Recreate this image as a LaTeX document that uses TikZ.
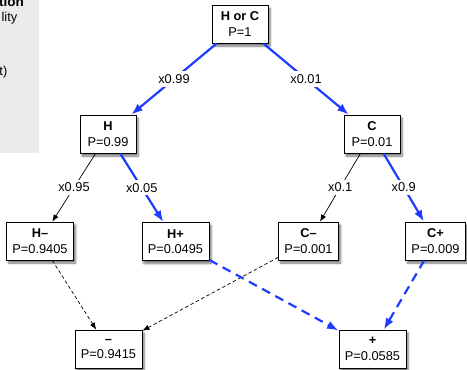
\documentclass[tikz,border=0pt]{standalone}
\usepackage{fontspec}
\setmainfont{Liberation Sans}
\usetikzlibrary{arrows.meta,shadows.blur}
\definecolor{pathblue}{RGB}{30,60,255}
\definecolor{panelgrey}{RGB}{235,235,235}
\begin{document}
\begin{tikzpicture}[x=1pt,y=-1pt,
  font=\fontsize{12.8}{15.5}\selectfont,
  state/.style={draw=black,line width=0.8pt,fill=white,align=center,
    minimum height=38pt,minimum width=56pt,inner xsep=6pt,inner ysep=2pt,
    blur shadow={shadow xshift=2pt,shadow yshift=-3pt,shadow blur steps=6,shadow opacity=55}},
  branch/.style={-{Latex[length=7pt,width=5.5pt]},line width=0.7pt,black},
  hot/.style={-{Latex[length=11.5pt,width=8.5pt]},line width=2.2pt,pathblue},
  merge/.style={branch,dash pattern=on 3.5pt off 2.5pt},
  hotmerge/.style={hot,dash pattern=on 9pt off 6pt},
  lbl/.style={fill=white,text=black,inner xsep=1.5pt,inner ysep=3pt}]
\useasboundingbox (0,0) rectangle (467,370);

% side legend panel
\fill[panelgrey] (0,0) rectangle (38.5,153);
\begin{scope}
  \clip (0,0) rectangle (38.5,153);
  \node[anchor=base east,inner sep=0pt,font=\fontsize{13.5}{15}\selectfont\bfseries] (legtitle) at (24,6) {tion};
  \node[anchor=base east,inner sep=0pt] (legline) at (17.5,21) {lity};
  \node[anchor=base east,inner sep=0pt] (legnote) at (7.5,75) {t)};
\end{scope}

% states
\node[state] (hc) at (240,24) {\textbf{H or C}\\P=1};
\node[state] (h)  at (108,134) {\textbf{H}\\P=0.99};
\node[state] (c)  at (372,134) {\textbf{C}\\P=0.01};
\node[state] (hm) at (40,241) {\textbf{H–}\\P=0.9405};
\node[state] (hp) at (175.5,241.5) {\textbf{H+}\\P=0.0495};
\node[state] (cm) at (308.5,241) {\textbf{C–}\\P=0.001};
\node[state] (cp) at (435.5,241) {\textbf{C+}\\P=0.009};
\node[state] (neg) at (108.5,349) {\textbf{–}\\P=0.9415};
\node[state] (pos) at (372.5,349) {\textbf{+}\\P=0.0585};

% branching
\draw[hot] (hc) -- node[lbl] {x0.99} (h);
\draw[hot] (hc) -- node[lbl] {x0.01} (c);
\draw[branch] (h) -- node[lbl] {x0.95} (hm);
\draw[hot] (h) -- node[lbl] {x0.05} (hp);
\draw[branch] (c) -- node[lbl] {x0.1} (cm);
\draw[hot] (c) -- node[lbl] {x0.9} (cp);

% merging into outcomes
\draw[merge] (hm) -- (neg);
\draw[merge] (cm) -- (neg);
\draw[hotmerge] (hp) -- (pos);
\draw[hotmerge] (cp) -- (pos);
\end{tikzpicture}
\end{document}
